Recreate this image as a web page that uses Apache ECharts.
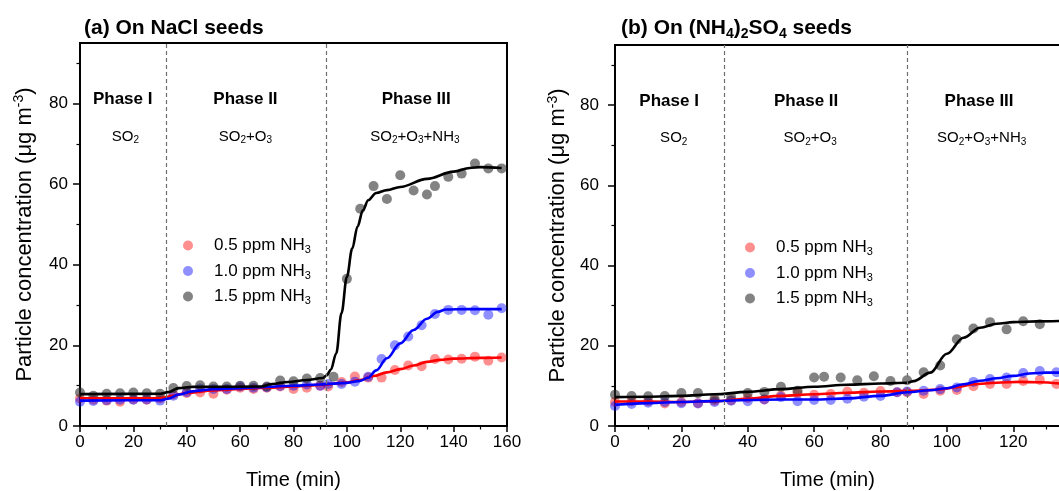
<!DOCTYPE html>
<html>
<head>
<meta charset="utf-8">
<script src="https://cdn.jsdelivr.net/npm/echarts@6/dist/echarts.min.js"></script>
<style>
  html, body { margin: 0; padding: 0; background: #fff; }
  #chart { width: 1059px; height: 491px; }
</style>
</head>
<body>
<div id="chart"></div>
<script>
// ---- Measured particle concentration [time (min), µg m-3] ----
// Panel (a): NaCl seeds
const redA = [[0,6.8],[5,6.5],[10,6.3],[15,6.0],[20,6.6],[25,6.5],[30,6.8],[35,7.8],[40,8.2],[45,8.3],[50,8.0],[55,9.0],[60,9.5],[65,9.2],[70,9.5],[75,9.8],[80,9.2],[85,9.5],[90,10.0],[93,9.8],[98,10.9],[103,12.3],[108,12.0],[113,12.0],[118,13.9],[123,15.0],[128,14.8],[133,16.6],[138,16.5],[143,16.7],[148,17.2],[153,16.2],[158,17.0]];
const blueA = [[0,6.0],[5,6.2],[10,6.4],[15,6.5],[20,6.5],[25,6.6],[30,6.3],[35,7.5],[40,8.4],[45,9.3],[50,9.2],[55,9.2],[60,9.8],[65,9.5],[70,9.6],[75,9.9],[80,10.0],[85,10.3],[90,10.0],[93,10.4],[98,10.4],[103,11.0],[108,12.2],[113,16.6],[118,20.0],[123,22.2],[128,25.0],[133,27.8],[138,28.8],[143,28.8],[148,28.7],[153,27.6],[158,29.2]];
const blackA = [[0,8.3],[5,7.5],[10,8.0],[15,8.1],[20,8.3],[25,8.1],[30,8.0],[35,9.4],[40,9.9],[45,10.1],[50,9.8],[55,9.8],[60,10.0],[65,10.0],[70,9.8],[75,11.3],[80,11.1],[85,11.8],[90,11.9],[95,12.2],[100,36.5],[105,53.9],[110,59.5],[115,56.3],[120,62.2],[125,58.4],[130,57.4],[133,59.5],[138,61.8],[143,62.6],[148,65.1],[153,63.9],[158,63.9]];

// Fitted trends, panel (a)
const redFitA = [[0,6.9],[30,6.9],[35,7.5],[40,8.2],[50,8.8],[60,9.2],[70,9.5],[80,9.8],[90,10.2],[100,10.8],[105,11.4],[110,12.4],[115,13.3],[120,14.1],[125,15.0],[130,15.9],[135,16.4],[140,16.7],[150,16.9],[158,17.0]];
const blueFitA = [[0,6.3],[30,6.4],[33,6.8],[37,7.8],[42,8.6],[50,9.1],[60,9.4],[70,9.7],[80,10.0],[90,10.3],[100,10.7],[105,11.2],[108,12.0],[111,13.8],[115,16.8],[120,20.5],[125,23.8],[130,26.6],[134,28.3],[137,28.9],[145,29.0],[158,29.0]];
const blackFitA = [[0,7.9],[30,8.0],[33,8.4],[37,9.4],[42,9.7],[68,9.8],[72,10.4],[78,10.9],[85,11.4],[91,11.9],[92.5,12.6],[94,14.0],[96,18.0],[98,28.0],[100,37.0],[102,44.0],[104,49.5],[106,53.5],[108,56.0],[111,57.8],[115,58.5],[120,59.3],[130,61.3],[140,63.1],[146,64.0],[150,64.2],[158,64.0]];

// Panel (b): (NH4)2SO4 seeds
const redB = [[0,6.0],[5,6.2],[10,6.2],[15,5.6],[20,6.0],[25,5.7],[30,6.3],[35,6.4],[40,7.0],[45,6.6],[50,7.6],[55,8.2],[60,7.8],[65,8.0],[70,8.6],[75,8.3],[80,8.7],[85,8.4],[88,8.4],[93,8.0],[98,8.8],[103,9.0],[108,9.9],[113,10.5],[118,10.5],[123,11.2],[128,11.5],[133,10.5]];
const blueB = [[0,5.0],[5,5.5],[10,5.8],[15,6.0],[20,5.7],[25,5.6],[30,6.0],[35,6.3],[40,6.2],[45,6.6],[50,7.2],[55,6.2],[60,6.5],[65,6.5],[70,6.8],[75,7.3],[80,7.5],[85,8.4],[88,8.6],[93,8.8],[98,9.2],[103,9.6],[108,11.0],[113,11.7],[118,12.1],[123,13.2],[128,13.7],[133,13.4]];
const blackB = [[0,7.8],[5,7.5],[10,7.4],[15,7.5],[20,8.2],[25,8.2],[30,6.8],[35,7.2],[40,8.2],[45,8.5],[50,9.8],[55,8.8],[60,12.1],[63,12.3],[68,12.1],[73,11.4],[78,12.4],[83,11.2],[88,11.4],[93,13.4],[98,15.1],[103,21.6],[108,24.3],[113,25.9],[118,24.1],[123,26.1],[128,25.4]];

// Fitted trends, panel (b)
const redFitB = [[0,6.1],[10,6.1],[20,6.0],[30,6.2],[40,6.8],[50,7.5],[60,7.9],[70,8.3],[80,8.6],[90,8.8],[98,9.1],[103,9.7],[108,10.4],[115,10.8],[122,11.0],[128,10.9],[135,10.5]];
const blueFitB = [[0,5.3],[10,5.7],[20,6.0],[30,6.2],[40,6.5],[50,6.6],[60,6.6],[70,6.9],[80,7.5],[88,8.4],[95,8.9],[100,9.4],[105,10.4],[110,11.3],[115,11.9],[120,12.5],[125,13.1],[130,13.3],[135,13.3]];
const blackFitB = [[0,7.2],[10,7.3],[20,7.5],[30,7.9],[40,8.5],[50,9.2],[60,9.8],[70,10.3],[80,10.6],[88,10.8],[90,11.2],[95,13.3],[100,18.0],[105,22.0],[110,24.5],[115,25.5],[120,25.9],[127,26.1],[135,26.2]];

// ---- Labels ----
const seriesNames = ['0.5 ppm NH3', '1.0 ppm NH3', '1.5 ppm NH3'];
const panelTitles = ['(a) On NaCl seeds', '(b) On (NH4)2SO4 seeds'];
const phaseNames = ['Phase I', 'Phase II', 'Phase III'];
const gasNames = ['SO2', 'SO2+O3', 'SO2+O3+NH3'];
const phaseTimesA = [16, 62, 126];
const gasTimesA = [17, 62, 125.5];
const phaseTimesB = [16.3, 57.6, 109.7];
const gasTimesB = [17.7, 58.8, 110.5];
const phaseLevel = 81;
const gasLevel = 71.8;
const dividersA = [32.5, 92.3];
const dividersB = [33, 88];
const yTicks = [0, 20, 40, 60, 80];
const yMinorTicks = [10, 30, 50, 70, 90];

const FONT = '"Liberation Sans", Arial, Helvetica, sans-serif';

// Turns chemical formula digits (after a letter or ')') into subscript tokens
function chem(str, n, s) {
  const out = '{' + n + '|' + str.replace(/([A-Za-z)])(\d+)/g, '$1}{' + s + '|$2}{' + n + '|') + '}';
  return out.replace(new RegExp('\\{' + n + '\\|\\}', 'g'), '');
}

function richPair(size, subSize, weight, lh) {
  const base = { fontFamily: FONT, fontWeight: weight, color: '#000', textBorderWidth: 0, opacity: 1 };
  return {
    n: { ...base, fontSize: size, lineHeight: lh, verticalAlign: 'middle' },
    s: { ...base, fontSize: subSize, lineHeight: Math.round(subSize * 0.75), verticalAlign: 'bottom' },
    p: { ...base, fontSize: subSize, lineHeight: Math.round(subSize * 0.75), verticalAlign: 'top' }
  };
}

const pointColors = ['rgba(255,0,0,0.55)', 'rgba(0,0,255,0.55)', 'rgba(40,40,40,0.72)'];
const lineColors = ['#ff0000', '#0000ff', '#000000'];

function makeX(gridIndex, nameShift) {
  return {
    type: 'value', gridIndex, min: 0, max: 160, interval: 20,
    name: 'Time (min)', nameLocation: 'middle', nameGap: 44,
    nameTextStyle: { fontFamily: FONT, fontSize: 20, color: '#000', padding: [0, nameShift, 0, 0] },
    axisLine: { show: true, onZero: false, lineStyle: { color: '#000', width: 2 } },
    axisTick: { show: true, length: 6, lineStyle: { color: '#000', width: 1.5 } },
    minorTick: { show: true, splitNumber: 2, length: 3.5, lineStyle: { color: '#000', width: 1.2 } },
    axisLabel: { fontFamily: FONT, fontSize: 17, color: '#000', margin: 8 },
    splitLine: { show: false }
  };
}

function makeY(gridIndex, labelMargin) {
  return [{
    type: 'value', gridIndex, min: 0, max: 95, interval: 20,
    name: '{n|Particle concentration (μg m}{p|-3}{n|)}',
    nameLocation: 'middle', nameGap: 43, nameRotate: 90,
    nameTextStyle: { rich: richPair(22, 14, 'normal', 25) },
    axisLine: { show: true, onZero: false, lineStyle: { color: '#000', width: 2 } },
    axisTick: { show: true, length: 7, customValues: yTicks, lineStyle: { color: '#000', width: 1.5 } },
    axisLabel: { fontFamily: FONT, fontSize: 17, color: '#000', margin: labelMargin, customValues: yTicks },
    splitLine: { show: false }
  }, {
    // minor ticks only
    type: 'value', gridIndex, min: 0, max: 95, position: 'left',
    axisLine: { show: false },
    axisTick: { show: true, length: 3.5, customValues: yMinorTicks, lineStyle: { color: '#000', width: 1.2 } },
    axisLabel: { show: false },
    splitLine: { show: false }
  }];
}

function textLabel(size, subSize, weight, lh) {
  return {
    show: true, position: [0, 0], align: 'center', verticalAlign: 'middle',
    color: '#000', textBorderWidth: 0,
    formatter: p => chem(p.value[2], 'n', 's'),
    rich: richPair(size, subSize, weight, lh)
  };
}

function panelSeries(xi, yi, points, fits, phaseT, gasT, dividers) {
  const list = [];
  points.forEach((d, i) => list.push({
    name: seriesNames[i], type: 'scatter', xAxisIndex: xi, yAxisIndex: yi,
    data: d, symbolSize: 10, itemStyle: { color: pointColors[i] }, z: 2
  }));
  fits.forEach((d, i) => list.push({
    name: seriesNames[i] + ' fit', type: 'line', xAxisIndex: xi, yAxisIndex: yi,
    data: d, showSymbol: false, smooth: 0.35, smoothMonotone: 'x',
    lineStyle: { color: lineColors[i], width: 2.6 }, itemStyle: { color: lineColors[i] }, z: 3
  }));
  list.push({
    name: 'phases', type: 'scatter', xAxisIndex: xi, yAxisIndex: yi, symbolSize: 0, silent: true,
    itemStyle: { color: '#000', opacity: 1 },
    data: phaseNames.map((p, i) => [phaseT[i], phaseLevel, p]),
    label: textLabel(17, 11, 'bold', 20),
    markLine: {
      silent: true, symbol: ['none', 'none'], label: { show: false },
      lineStyle: { color: '#6e6e6e', type: [4, 3], width: 1.2 },
      data: dividers.map(v => ({ xAxis: v }))
    }
  });
  list.push({
    name: 'gases', type: 'scatter', xAxisIndex: xi, yAxisIndex: yi, symbolSize: 0, silent: true,
    itemStyle: { color: '#000', opacity: 1 },
    data: gasNames.map((g, i) => [gasT[i], gasLevel, g]),
    label: textLabel(15, 10, 'normal', 18)
  });
  return list;
}

function makeLegend(left, top) {
  return {
    left, top, orient: 'vertical', icon: 'circle', itemWidth: 42, itemHeight: 10, itemGap: 7,
    data: seriesNames, selectedMode: false,
    formatter: name => chem(name, 'n', 's'),
    textStyle: { rich: richPair(17, 11, 'normal', 20) }
  };
}

const chart = echarts.init(document.getElementById('chart'), null, { renderer: 'canvas' });
chart.setOption({
  animation: false,
  backgroundColor: '#fff',
  title: [
    { text: chem(panelTitles[0], 'n', 's'), left: 79, top: 10, textStyle: { rich: richPair(21, 14, 'bold', 26) } },
    { text: chem(panelTitles[1], 'n', 's'), left: 616, top: 10, textStyle: { rich: richPair(21, 14, 'bold', 26) } }
  ],
  grid: [
    { left: 80, top: 43, width: 427, height: 383, show: true, borderColor: '#000', borderWidth: 2, outerBoundsMode: 'none' },
    { left: 615, top: 45, width: 531, height: 381, show: true, borderColor: '#000', borderWidth: 2, outerBoundsMode: 'none' }
  ],
  legend: [makeLegend(178, 232), makeLegend(740, 234)],
  xAxis: [makeX(0, 0), makeX(1, 106)],
  yAxis: [...makeY(0, 12), ...makeY(1, 16)],
  series: [
    ...panelSeries(0, 0, [redA, blueA, blackA], [redFitA, blueFitA, blackFitA], phaseTimesA, gasTimesA, dividersA),
    ...panelSeries(1, 2, [redB, blueB, blackB], [redFitB, blueFitB, blackFitB], phaseTimesB, gasTimesB, dividersB)
  ]
});
</script>
</body>
</html>
